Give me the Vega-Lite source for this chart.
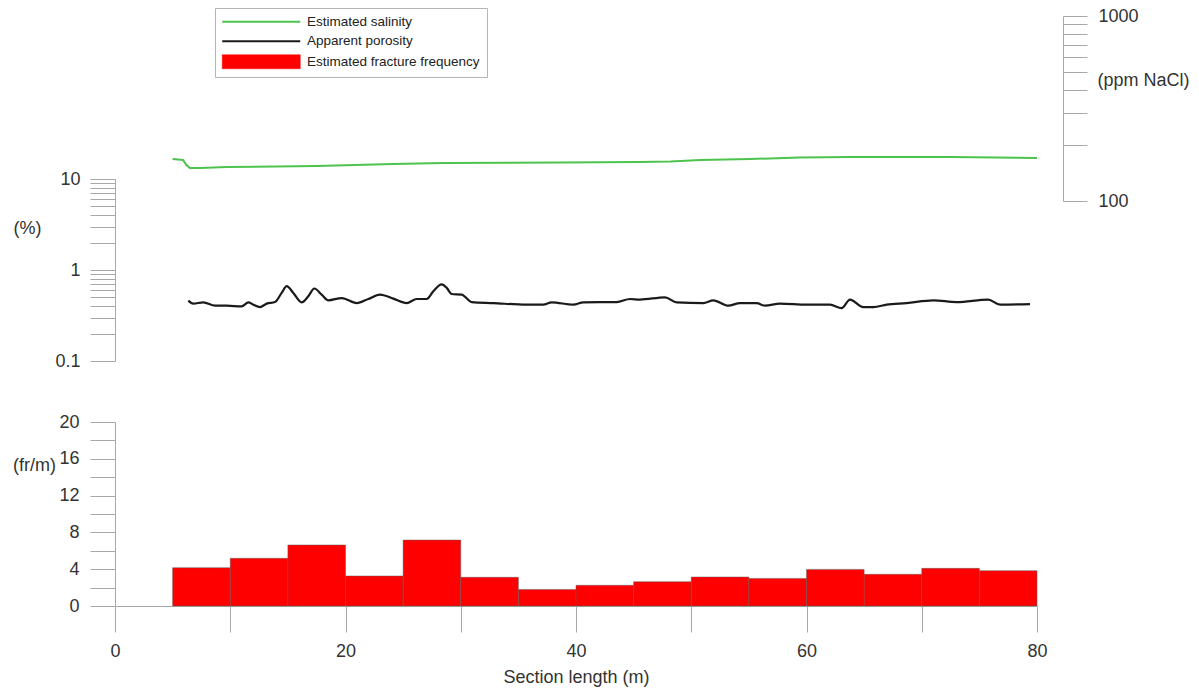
{
  "$schema": "https://vega.github.io/schema/vega-lite/v6.json",
  "width": 922,
  "height": 590,
  "autosize": {"type": "none"},
  "padding": {"left": 115, "top": 16, "right": 162, "bottom": 82},
  "background": "white",
  "config": {
    "view": {"stroke": null},
    "axis": {
      "grid": false,
      "domainColor": "#a8a8a8",
      "tickColor": "#a8a8a8",
      "domainWidth": 1,
      "tickWidth": 1,
      "labelFont": "Liberation Sans",
      "labelFontSize": 18,
      "labelColor": "#333333",
      "titleFont": "Liberation Sans",
      "titleFontSize": 18,
      "titleFontWeight": "normal",
      "titleColor": "#333333",
      "labelFlush": false,
      "labelOverlap": false,
      "labelBound": false
    },
    "legend": {
      "orient": "none",
      "legendX": 100,
      "legendY": -8,
      "direction": "vertical",
      "symbolType": "stroke",
      "symbolSize": 6084,
      "symbolStrokeWidth": 2,
      "symbolOffset": 32.5,
      "labelFont": "Liberation Sans",
      "labelFontSize": 13.5,
      "labelColor": "#222222",
      "labelOffset": 39,
      "labelLimit": 400,
      "padding": 7,
      "rowPadding": 4.5,
      "strokeColor": "#b5b5b5",
      "fillColor": "white"
    }
  },
  "layer": [
    {
      "data": {"values": [
        {"start": 5, "end": 10, "freq": 4.16},
        {"start": 10, "end": 15, "freq": 5.18},
        {"start": 15, "end": 20, "freq": 6.63},
        {"start": 20, "end": 25, "freq": 3.26},
        {"start": 25, "end": 30, "freq": 7.17},
        {"start": 30, "end": 35, "freq": 3.12},
        {"start": 35, "end": 40, "freq": 1.8},
        {"start": 40, "end": 45, "freq": 2.25},
        {"start": 45, "end": 50, "freq": 2.64},
        {"start": 50, "end": 55, "freq": 3.15},
        {"start": 55, "end": 60, "freq": 3.0},
        {"start": 60, "end": 65, "freq": 3.98},
        {"start": 65, "end": 70, "freq": 3.44},
        {"start": 70, "end": 75, "freq": 4.09},
        {"start": 75, "end": 80, "freq": 3.84}
      ]},
      "mark": {"type": "bar", "stroke": "#5a5a5a", "strokeWidth": 0.6, "strokeOpacity": 0.8, "opacity": 1},
      "encoding": {
        "x": {
          "field": "start", "type": "quantitative",
          "scale": {"domain": [0, 80], "nice": false, "zero": false},
          "axis": {
            "title": "Section length (m)",
            "values": [0, 10, 20, 30, 40, 50, 60, 70, 80],
            "tickSize": 26,
            "labelPadding": 10,
            "labelExpr": "datum.value % 20 === 0 ? datum.label : ''",
            "titleY": 71,
            "titleBaseline": "middle",
            "encode": {"ticks": {"update": {"y2": {"signal": "datum.value % 20 === 0 ? 26 : 14"}}}}
          }
        },
        "x2": {"field": "end"},
        "y": {
          "field": "freq", "type": "quantitative",
          "scale": {"domain": [0, 20], "range": [590, 406], "nice": false},
          "axis": {
            "orient": "left",
            "title": "(fr/m)",
            "titleAngle": 0,
            "titleAlign": "center",
            "titleBaseline": "middle",
            "titleX": -81,
            "titleY": 449,
            "values": [0, 2, 4, 6, 8, 10, 12, 14, 16, 18, 20],
            "tickSize": 25,
            "labelPadding": 11,
            "labelExpr": "datum.value % 4 === 0 ? datum.label : ''",
            "encode": {"ticks": {"update": {"x2": {"signal": "datum.value % 4 === 0 ? -25 : -13"}}}}
          }
        },
        "y2": {"datum": 0},
        "color": {
          "datum": "Estimated fracture frequency", "type": "nominal",
          "scale": {"domain": ["Estimated salinity", "Apparent porosity", "Estimated fracture frequency"], "range": ["#4cc34c", "#1a1a1a", "#ff0000"]},
          "legend": {
            "title": null,
            "encode": {
              "symbols": {
                "update": {
                  "shape": {"signal": "datum.value === 'Estimated fracture frequency' ? 'M-1,-0.18H1V0.18H-1Z' : 'stroke'"},
                  "stroke": {"signal": "datum.value === 'Estimated salinity' ? '#4cc34c' : datum.value === 'Apparent porosity' ? '#1a1a1a' : '#7a3030'"},
                  "fill": {"signal": "datum.value === 'Estimated fracture frequency' ? '#ff0000' : 'transparent'"},
                  "strokeWidth": {"signal": "datum.value === 'Estimated fracture frequency' ? 0.5 : 2"},
                  "opacity": {"value": 1}
                }
              }
            }
          }
        }
      }
    },
    {
      "data": {"values": [
        {"x": 6.36, "p": 0.461}, {"x": 6.79, "p": 0.427}, {"x": 7.66, "p": 0.441}, {"x": 8.68, "p": 0.405},
        {"x": 9.69, "p": 0.405}, {"x": 10.99, "p": 0.398}, {"x": 11.57, "p": 0.441}, {"x": 12.0, "p": 0.416},
        {"x": 12.58, "p": 0.391}, {"x": 13.16, "p": 0.427}, {"x": 13.88, "p": 0.444}, {"x": 14.46, "p": 0.56},
        {"x": 14.9, "p": 0.664}, {"x": 15.47, "p": 0.56}, {"x": 16.2, "p": 0.441}, {"x": 16.77, "p": 0.514},
        {"x": 17.29, "p": 0.626}, {"x": 17.93, "p": 0.537}, {"x": 18.51, "p": 0.464}, {"x": 19.67, "p": 0.492},
        {"x": 20.97, "p": 0.433}, {"x": 21.98, "p": 0.48}, {"x": 22.99, "p": 0.537}, {"x": 24.15, "p": 0.485},
        {"x": 25.31, "p": 0.433}, {"x": 26.18, "p": 0.48}, {"x": 27.05, "p": 0.48}, {"x": 27.62, "p": 0.584},
        {"x": 28.35, "p": 0.694}, {"x": 28.78, "p": 0.636}, {"x": 29.21, "p": 0.545}, {"x": 30.08, "p": 0.537},
        {"x": 30.95, "p": 0.444}, {"x": 32.82, "p": 0.433}, {"x": 35.72, "p": 0.416}, {"x": 37.16, "p": 0.416},
        {"x": 37.89, "p": 0.441}, {"x": 39.77, "p": 0.416}, {"x": 40.63, "p": 0.441}, {"x": 43.53, "p": 0.444},
        {"x": 44.69, "p": 0.48}, {"x": 45.55, "p": 0.473}, {"x": 47.72, "p": 0.501}, {"x": 48.74, "p": 0.441},
        {"x": 51.05, "p": 0.433}, {"x": 51.91, "p": 0.464}, {"x": 53.21, "p": 0.405}, {"x": 54.23, "p": 0.433},
        {"x": 55.68, "p": 0.433}, {"x": 56.4, "p": 0.405}, {"x": 57.7, "p": 0.427}, {"x": 60.02, "p": 0.416},
        {"x": 62.04, "p": 0.416}, {"x": 63.05, "p": 0.381}, {"x": 63.77, "p": 0.473}, {"x": 64.93, "p": 0.391},
        {"x": 65.8, "p": 0.391}, {"x": 66.96, "p": 0.416}, {"x": 68.69, "p": 0.433}, {"x": 71.0, "p": 0.464},
        {"x": 73.03, "p": 0.444}, {"x": 75.77, "p": 0.473}, {"x": 76.79, "p": 0.416}, {"x": 79.39, "p": 0.422}
      ]},
      "mark": {"type": "line", "strokeWidth": 2.2, "interpolate": "monotone"},
      "encoding": {
        "x": {
          "field": "x", "type": "quantitative",
          "scale": {"domain": [0, 80], "nice": false, "zero": false},
          "axis": {
            "title": "Section length (m)",
            "values": [0, 10, 20, 30, 40, 50, 60, 70, 80],
            "tickSize": 26,
            "labelPadding": 10,
            "labelExpr": "datum.value % 20 === 0 ? datum.label : ''",
            "titleY": 71,
            "titleBaseline": "middle",
            "encode": {"ticks": {"update": {"y2": {"signal": "datum.value % 20 === 0 ? 26 : 14"}}}}
          }
        },
        "y": {
          "field": "p", "type": "quantitative",
          "scale": {"type": "log", "domain": [0.1, 10], "range": [345, 163], "nice": false},
          "axis": {
            "orient": "left",
            "title": "(%)",
            "titleAngle": 0,
            "titleAlign": "center",
            "titleBaseline": "middle",
            "titleX": -88,
            "titleY": 212,
            "values": [0.1, 0.2, 0.3, 0.4, 0.5, 0.6, 0.7, 0.8, 0.9, 1, 2, 3, 4, 5, 6, 7, 8, 9, 10],
            "tickSize": 25,
            "labelPadding": 10,
            "labelExpr": "datum.value === 0.1 ? '0.1' : datum.value === 1 ? '1' : datum.value === 10 ? '10' : ''",
            "encode": {"ticks": {"update": {"x2": {"signal": "(datum.value === 0.1 || datum.value === 1 || datum.value === 10) ? -25 : -13"}}}}
          }
        },
        "color": {
          "datum": "Apparent porosity", "type": "nominal",
          "scale": {"domain": ["Estimated salinity", "Apparent porosity", "Estimated fracture frequency"], "range": ["#4cc34c", "#1a1a1a", "#ff0000"]},
          "legend": {
            "title": null,
            "encode": {
              "symbols": {
                "update": {
                  "shape": {"signal": "datum.value === 'Estimated fracture frequency' ? 'M-1,-0.18H1V0.18H-1Z' : 'stroke'"},
                  "stroke": {"signal": "datum.value === 'Estimated salinity' ? '#4cc34c' : datum.value === 'Apparent porosity' ? '#1a1a1a' : '#7a3030'"},
                  "fill": {"signal": "datum.value === 'Estimated fracture frequency' ? '#ff0000' : 'transparent'"},
                  "strokeWidth": {"signal": "datum.value === 'Estimated fracture frequency' ? 0.5 : 2"},
                  "opacity": {"value": 1}
                }
              }
            }
          }
        }
      }
    },
    {
      "data": {"values": [
        {"x": 5.0, "s": 168.7}, {"x": 5.9, "s": 166.6}, {"x": 6.2, "s": 156.5}, {"x": 6.5, "s": 150.8},
        {"x": 7.4, "s": 150.8}, {"x": 9.7, "s": 152.6}, {"x": 17.5, "s": 154.7}, {"x": 24.1, "s": 158.5},
        {"x": 28.5, "s": 160.5}, {"x": 38.6, "s": 161.5}, {"x": 45.5, "s": 162.6}, {"x": 48.2, "s": 163.5},
        {"x": 50.8, "s": 166.6}, {"x": 55.1, "s": 168.7}, {"x": 59.4, "s": 171.8}, {"x": 63.8, "s": 172.9},
        {"x": 72.5, "s": 172.9}, {"x": 80, "s": 170.8}
      ]},
      "mark": {"type": "line", "strokeWidth": 2},
      "encoding": {
        "x": {
          "field": "x", "type": "quantitative",
          "scale": {"domain": [0, 80], "nice": false, "zero": false},
          "axis": {
            "title": "Section length (m)",
            "values": [0, 10, 20, 30, 40, 50, 60, 70, 80],
            "tickSize": 26,
            "labelPadding": 10,
            "labelExpr": "datum.value % 20 === 0 ? datum.label : ''",
            "titleY": 71,
            "titleBaseline": "middle",
            "encode": {"ticks": {"update": {"y2": {"signal": "datum.value % 20 === 0 ? 26 : 14"}}}}
          }
        },
        "y": {
          "field": "s", "type": "quantitative",
          "scale": {"type": "log", "domain": [100, 1000], "range": [185, 0], "nice": false},
          "axis": {
            "orient": "right",
            "offset": 26,
            "title": "(ppm NaCl)",
            "titleAngle": 0,
            "titleAlign": "center",
            "titleBaseline": "middle",
            "titleX": 80,
            "titleY": 64,
            "values": [100, 200, 300, 400, 500, 600, 700, 800, 900, 1000],
            "tickSize": 24,
            "labelPadding": 11,
            "labelExpr": "datum.value === 100 ? '100' : datum.value === 1000 ? '1000' : ''",
            "encode": {"ticks": {"update": {"x2": {"signal": "(datum.value === 100 || datum.value === 1000) ? 24 : 12"}}}}
          }
        },
        "color": {
          "datum": "Estimated salinity", "type": "nominal",
          "scale": {"domain": ["Estimated salinity", "Apparent porosity", "Estimated fracture frequency"], "range": ["#4cc34c", "#1a1a1a", "#ff0000"]},
          "legend": {
            "title": null,
            "encode": {
              "symbols": {
                "update": {
                  "shape": {"signal": "datum.value === 'Estimated fracture frequency' ? 'M-1,-0.18H1V0.18H-1Z' : 'stroke'"},
                  "stroke": {"signal": "datum.value === 'Estimated salinity' ? '#4cc34c' : datum.value === 'Apparent porosity' ? '#1a1a1a' : '#7a3030'"},
                  "fill": {"signal": "datum.value === 'Estimated fracture frequency' ? '#ff0000' : 'transparent'"},
                  "strokeWidth": {"signal": "datum.value === 'Estimated fracture frequency' ? 0.5 : 2"},
                  "opacity": {"value": 1}
                }
              }
            }
          }
        }
      }
    }
  ],
  "resolve": {"scale": {"y": "independent"}, "axis": {"y": "independent"}}
}
